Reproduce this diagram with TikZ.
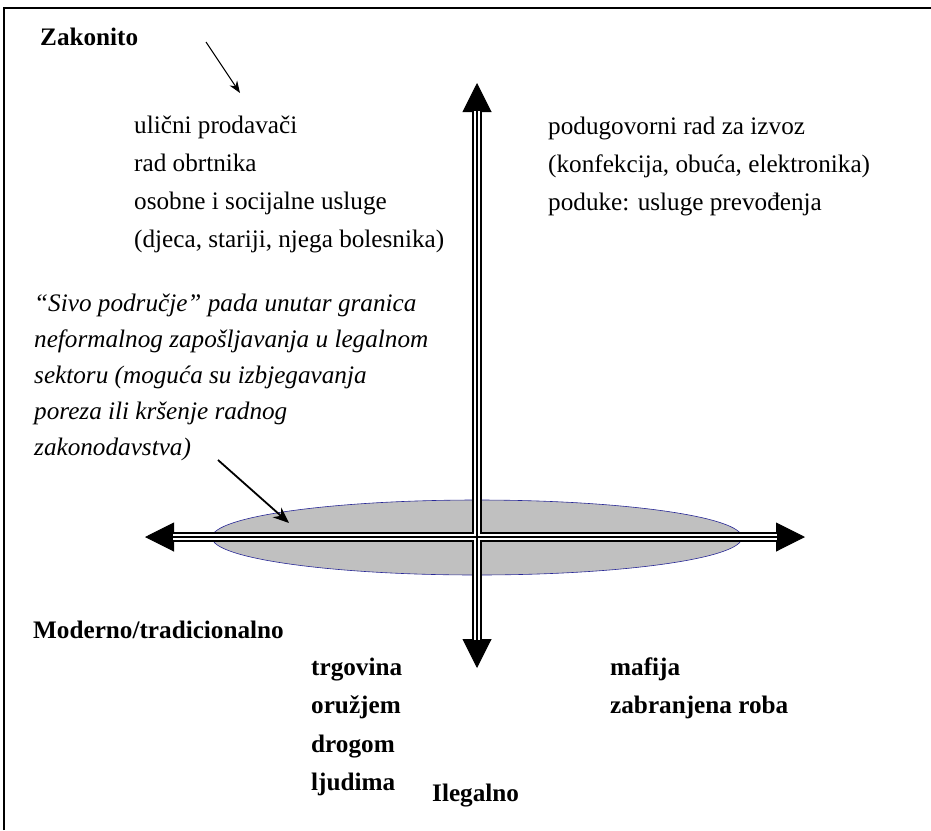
\documentclass[tikz,border=0pt]{standalone}
\usepackage{fontspec}
\setmainfont{Liberation Serif}
\usetikzlibrary{arrows.meta,shapes.geometric}
\definecolor{sivo}{RGB}{192,192,192}
\definecolor{rub}{RGB}{40,40,150}
\tikzset{
  txt/.style={anchor=base west, inner sep=0pt, align=left,
    font=\fontsize{25.2}{38}\selectfont},
  bld/.style={txt, font=\fontsize{25.2}{38.5}\selectfont\bfseries},
  pointer/.style={-{Stealth[length=12pt,width=9pt]}, line width=1pt},
  axistip/.style={{Triangle[length=29pt,width=29pt]}-{Triangle[length=29pt,width=29pt]}, line width=1pt},
}
\begin{document}
\begin{tikzpicture}[x=1pt,y=-1pt]
    \useasboundingbox (0,0) rectangle (931,830);
    \draw [line width=1.8pt] (4,830) -- (4,8.3) -- (931,8.3);   % ------ okvir -----
    % siva zona
    \node (zona) [ellipse, minimum width=530pt, minimum height=75pt, inner sep=0pt,
          fill=sivo, draw=rub, line width=.6pt] at (477,537.5) {};
    % osi
    \coordinate (L) at (145,537);  \coordinate (R) at (805,537);
    \coordinate (T) at (477,83);   \coordinate (B) at (477,668);
    \draw [axistip] (L) -- (R);
    \draw [axistip] (B) -- (T);
    \draw [line width=10pt, shorten <=28pt, shorten >=28pt] (L) -- (R);
    \draw [line width=10pt, shorten <=28pt, shorten >=28pt] (B) -- (T);
    \draw [line width=6pt, white, shorten <=28pt, shorten >=28pt] (L) -- (R);
    \draw [line width=6pt, white, shorten <=28pt, shorten >=28pt] (B) -- (T);
    \draw [line width=2.5pt, shorten <=28pt, shorten >=28pt] (L) -- (R);
    \draw [line width=2.5pt, shorten <=28pt, shorten >=28pt] (B) -- (T);
    % tekstovi (base = zadnji red)
    \node (zak) [txt, font=\fontsize{25.2}{38}\selectfont\bfseries] at (40,45) {Zakonito};
    \node (lijevo) [txt] at (134,247) {ulični prodavači\\rad obrtnika\\osobne i socijalne usluge\\(djeca, stariji, njega bolesnika)};
    \node (desno) [txt] at (548,210) {podugovorni rad za izvoz\\(konfekcija, obuća, elektronika)\\poduke: usluge prevođenja};
    \node (opis) [txt, font=\fontsize{25.2}{35.8}\selectfont\itshape] at (34,455) {“Sivo područje” pada unutar granica\\neformalnog zapošljavanja u legalnom\\sektoru (moguća su izbjegavanja\\poreza ili kršenje radnog\\zakonodavstva)};
    \node (mod) [bld] at (33,638) {Moderno/tradicionalno};
    \node (trg) [bld] at (311,790.5) {trgovina\\oružjem\\drogom\\ljudima};
    \node (maf) [bld] at (610,713.5) {mafija\\zabranjena roba};
    \node (ileg) [bld] at (432,801) {Ilegalno};
    % strelice
    \coordinate (z1) at (206,42);  \coordinate (z2) at (240,93);
    \draw [pointer] (z1) -- (z2);
    \coordinate (s1) at (218,460); \coordinate (s2) at (289,523);
    \draw [pointer, line width=1.8pt, -{Stealth[length=16pt,width=13pt]}] (s1) -- (s2);
\end{tikzpicture}
\end{document}
